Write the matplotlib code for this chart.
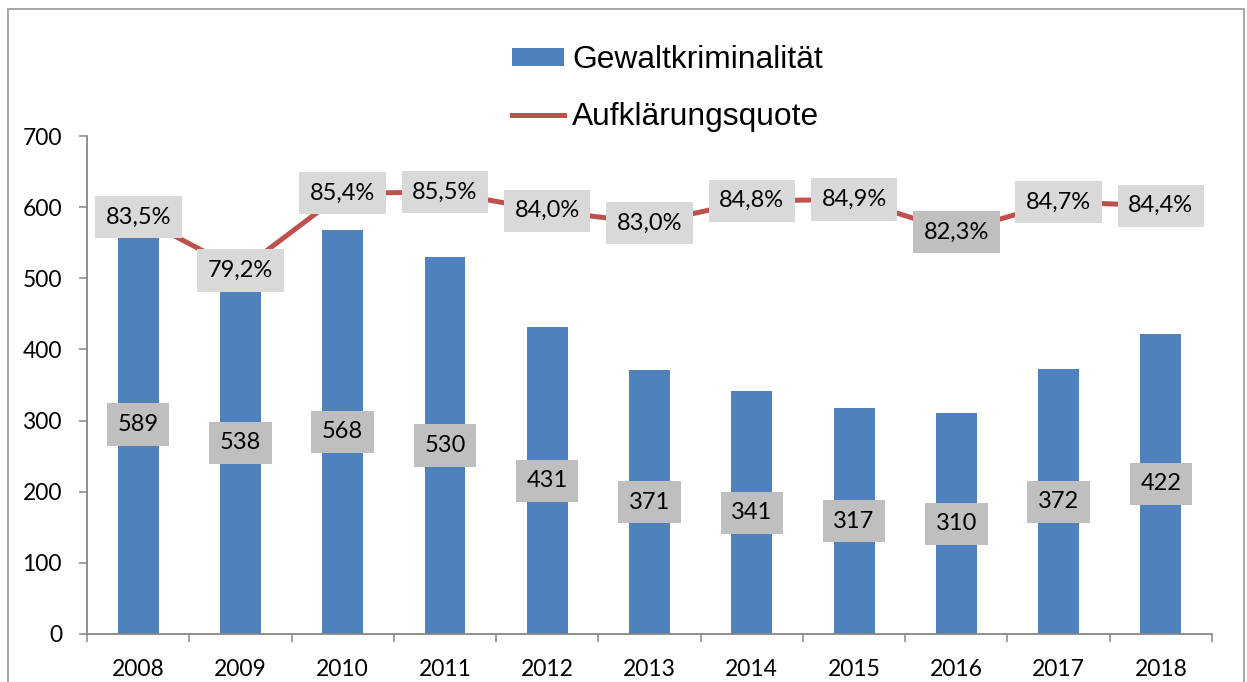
import matplotlib
matplotlib.use("Agg")
import matplotlib.pyplot as plt
from matplotlib.patches import Rectangle
from matplotlib.lines import Line2D
from matplotlib.ticker import FixedLocator

years = ["2008", "2009", "2010", "2011", "2012", "2013", "2014", "2015", "2016", "2017", "2018"]
gewalt = [589, 538, 568, 530, 431, 371, 341, 317, 310, 372, 422]
quote = [83.5, 79.2, 85.4, 85.5, 84.0, 83.0, 84.8, 84.9, 82.3, 84.7, 84.4]
quote_labels = ["83,5%", "79,2%", "85,4%", "85,5%", "84,0%", "83,0%", "84,8%", "84,9%", "82,3%", "84,7%", "84,4%"]
y_ticks = [0, 100, 200, 300, 400, 500, 600, 700]

BAR = "#4F81BD"
LINE = "#C0504D"
SPINE = "#868686"
TICKFONT = "Lato"

W, H = 1247, 682
fig = plt.figure(figsize=(W / 100, H / 100), dpi=100)
ax = fig.add_axes([87 / W, 1 - 634 / H, (1212 - 87) / W, (634 - 136) / H])

x = list(range(len(years)))
ax.bar(x, gewalt, width=0.4, color=BAR, zorder=2, label="Gewaltkriminalität")
ax.set_xlim(-0.5, len(years) - 0.5)
ax.set_ylim(0, 700)
ax.set_yticks(y_ticks)
ax.set_yticklabels([str(v) for v in y_ticks], fontfamily=TICKFONT, fontsize=16.5)
ax.set_xticks(x)
ax.set_xticklabels(years, fontfamily=TICKFONT, fontsize=16.5)
ax.xaxis.set_minor_locator(FixedLocator([i - 0.5 for i in range(len(years) + 1)]))
ax.tick_params(axis="x", which="major", length=0, pad=18)
ax.tick_params(axis="x", which="minor", length=6, width=1.1, color=SPINE, direction="out")
ax.tick_params(axis="y", which="major", length=6, width=1.1, color=SPINE, direction="out", pad=12)
for s in ["top", "right"]:
    ax.spines[s].set_visible(False)
for s in ["left", "bottom"]:
    ax.spines[s].set_color(SPINE)
    ax.spines[s].set_linewidth(1.3)

for xi, v in zip(x, gewalt):
    ax.text(xi, v / 2, str(v), ha="center", va="center", fontfamily=TICKFONT, fontsize=17,
            zorder=4, bbox=dict(boxstyle="square,pad=0.45", fc="#BFBFBF", ec="none"))

ax2 = ax.twinx()
ax2.set_ylim(50, 90)
ax2.plot(x, quote, color=LINE, lw=3.6, zorder=2, solid_capstyle="butt")
ax2.axis("off")
for xi, v, lab in zip(x, quote, quote_labels):
    fc = "#BFBFBF" if lab == "82,3%" else "#D9D9D9"
    ax2.text(xi, v, lab, ha="center", va="center", fontfamily=TICKFONT, fontsize=17,
             zorder=4, bbox=dict(boxstyle="square,pad=0.45", fc=fc, ec="none"))

handles = [Rectangle((0, 0), 1, 1, fc=BAR, ec="none"),
           Line2D([0], [0], color=LINE, lw=3.6)]
leg = fig.legend(handles, ["Gewaltkriminalität", "Aufklärungsquote"],
                 loc="upper left", bbox_to_anchor=(512 / W, 1 - 45 / H),
                 frameon=False, prop={"family": "Liberation Sans", "size": 22.9},
                 handlelength=1.65, handleheight=0.5, handletextpad=0.25, labelspacing=0.85,
                 borderaxespad=0, borderpad=0)

# outer frame
fig.add_artist(Rectangle((8 / W, -0.05), (1244 - 8) / W, 1.05 - 9 / H, transform=fig.transFigure,
                         fill=False, ec="#A0A0A0", lw=1.3))

fig.savefig("out.png", dpi=100)
